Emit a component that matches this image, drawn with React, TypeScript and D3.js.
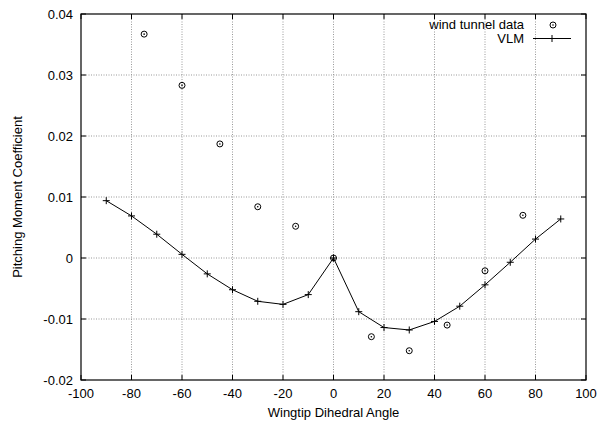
import React, { useEffect, useRef } from "react";
import * as d3 from "d3";

// Wind tunnel measurements
const TUNNEL_ANGLE = [-75, -60, -45, -30, -15, 0, 15, 30, 45, 60, 75];
const TUNNEL_CM = [0.0367, 0.0283, 0.0187, 0.0084, 0.0052, 0, -0.0129, -0.0152, -0.011, -0.0021, 0.007];

// Vortex lattice method
const VLM_ANGLE = [-90, -80, -70, -60, -50, -40, -30, -20, -10, 0, 10, 20, 30, 40, 50, 60, 70, 80, 90];
const VLM_CM = [0.0094, 0.0069, 0.0039, 0.0006, -0.0026, -0.0052, -0.0071, -0.0076, -0.006, 0, -0.0088, -0.0114, -0.0118, -0.0104, -0.0079, -0.0044, -0.0007, 0.0031, 0.0064];

const X_TICKS = [-100, -80, -60, -40, -20, 0, 20, 40, 60, 80, 100];
const Y_TICKS = [-0.02, -0.01, 0, 0.01, 0.02, 0.03, 0.04];

const W = 610;
const H = 427;

export default function App() {
  const svgRef = useRef<SVGSVGElement>(null);

  useEffect(() => {
    const svg = d3.select(svgRef.current);
    svg.selectAll("*").remove();

    const left = 81, right = 586, top = 14, bottom = 380;
    const font = "'Liberation Sans', Arial, Helvetica, sans-serif";
    const fs = "13px";

    const x = d3.scaleLinear().domain([-100, 100]).range([left, right]);
    const y = d3.scaleLinear().domain([-0.02, 0.04]).range([bottom, top]);

    // grid
    svg.append("g")
      .selectAll("line")
      .data(X_TICKS.slice(1, -1))
      .join("line")
      .attr("x1", d => x(d)).attr("x2", d => x(d))
      .attr("y1", top).attr("y2", bottom)
      .attr("stroke", "#999").attr("stroke-width", 1)
      .attr("stroke-dasharray", "1,1.5");
    svg.append("g")
      .selectAll("line")
      .data(Y_TICKS.slice(1, -1))
      .join("line")
      .attr("x1", left).attr("x2", right)
      .attr("y1", d => y(d)).attr("y2", d => y(d))
      .attr("stroke", "#999").attr("stroke-width", 1)
      .attr("stroke-dasharray", "1,1.5");

    // ticks on all four sides, pointing inward
    const tl = 5;
    const tk = svg.append("g").attr("stroke", "#000").attr("stroke-width", 1);
    X_TICKS.forEach(t => {
      tk.append("line").attr("x1", x(t)).attr("x2", x(t)).attr("y1", bottom).attr("y2", bottom - tl);
      tk.append("line").attr("x1", x(t)).attr("x2", x(t)).attr("y1", top).attr("y2", top + tl);
    });
    Y_TICKS.forEach(t => {
      tk.append("line").attr("x1", left).attr("x2", left + tl).attr("y1", y(t)).attr("y2", y(t));
      tk.append("line").attr("x1", right).attr("x2", right - tl).attr("y1", y(t)).attr("y2", y(t));
    });

    // frame
    svg.append("rect")
      .attr("x", left).attr("y", top)
      .attr("width", right - left).attr("height", bottom - top)
      .attr("fill", "none").attr("stroke", "#000").attr("stroke-width", 1.2);

    // tick labels
    svg.append("g")
      .selectAll("text")
      .data(X_TICKS)
      .join("text")
      .attr("x", d => x(d)).attr("y", bottom + 18)
      .attr("text-anchor", "middle")
      .style("font-family", font).style("font-size", fs)
      .text(d => String(d));
    svg.append("g")
      .selectAll("text")
      .data(Y_TICKS)
      .join("text")
      .attr("x", left - 8).attr("y", d => y(d) + 4.5)
      .attr("text-anchor", "end")
      .style("font-family", font).style("font-size", fs)
      .text(d => (d === 0 ? "0" : d.toFixed(2)));

    // axis labels
    svg.append("text")
      .attr("x", (left + right) / 2).attr("y", 417)
      .attr("text-anchor", "middle")
      .style("font-family", font).style("font-size", fs)
      .text("Wingtip Dihedral Angle");
    svg.append("text")
      .attr("transform", `translate(22,${(top + bottom) / 2}) rotate(-90)`)
      .attr("text-anchor", "middle")
      .style("font-family", font).style("font-size", fs)
      .text("Pitching Moment Coefficient");

    // VLM line with plus markers
    const vlm = VLM_ANGLE.map((a, i) => [a, VLM_CM[i]] as [number, number]);
    svg.append("path")
      .datum(vlm)
      .attr("d", d3.line<[number, number]>().x(d => x(d[0])).y(d => y(d[1])))
      .attr("fill", "none").attr("stroke", "#000").attr("stroke-width", 1);
    const plus = (g: any, cx: number, cy: number) => {
      g.append("path")
        .attr("d", `M${cx - 3.5},${cy}H${cx + 3.5}M${cx},${cy - 3.5}V${cy + 3.5}`)
        .attr("stroke", "#000").attr("stroke-width", 1);
    };
    const pg = svg.append("g");
    vlm.forEach(d => plus(pg, x(d[0]), y(d[1])));

    // wind tunnel markers
    const circ = (g: any, cx: number, cy: number) => {
      g.append("circle").attr("cx", cx).attr("cy", cy).attr("r", 3)
        .attr("fill", "none").attr("stroke", "#000").attr("stroke-width", 1);
      g.append("circle").attr("cx", cx).attr("cy", cy).attr("r", 0.8).attr("fill", "#000");
    };
    const cg = svg.append("g");
    TUNNEL_ANGLE.forEach((a, i) => circ(cg, x(a), y(TUNNEL_CM[i])));

    // legend
    const lg = svg.append("g");
    lg.append("text")
      .attr("x", 524).attr("y", 29)
      .attr("text-anchor", "end")
      .style("font-family", font).style("font-size", fs)
      .text("wind tunnel data");
    circ(lg, 553, 25);
    lg.append("text")
      .attr("x", 524).attr("y", 43)
      .attr("text-anchor", "end")
      .style("font-family", font).style("font-size", fs)
      .text("VLM");
    lg.append("line")
      .attr("x1", 533).attr("x2", 571).attr("y1", 38.5).attr("y2", 38.5)
      .attr("stroke", "#000").attr("stroke-width", 1);
    plus(lg, 552, 38.5);
  }, []);

  return (
    <svg ref={svgRef} width={W} height={H} style={{ position: "absolute", left: 0, top: 0, background: "#fff" }} />
  );
}
